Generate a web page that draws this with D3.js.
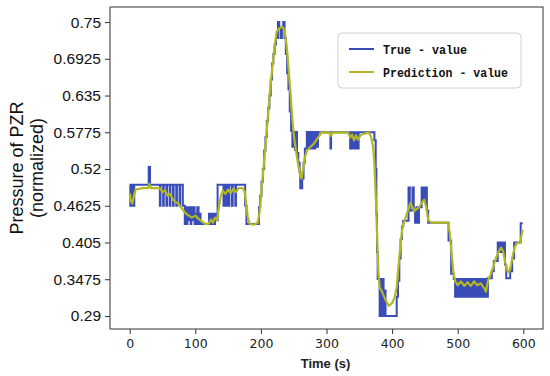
<!DOCTYPE html>
<html><head><meta charset="utf-8">
<script src="https://cdn.jsdelivr.net/npm/d3@7"></script>
<style>body{margin:0;background:#fff}svg{display:block}</style>
</head><body>
<svg id="c" width="550" height="376"></svg>
<script>
const yTicks = [0.29, 0.3475, 0.405, 0.4625, 0.52, 0.5775, 0.635, 0.6925, 0.75];
const yTickLabels = ["0.29","0.3475","0.405","0.4625","0.52","0.5775","0.635","0.6925","0.75"];
const xTicks = [0, 100, 200, 300, 400, 500, 600];
const seriesNames = ["True - value", "Prediction - value"];

const trueT = [0,1,2,3,5,6,7,29,31,46,47,51,52,56,57,61,62,66,67,71,72,76,77,81,
 84,85,87,88,90,91,93,94,96,97,99,100,102,103,105,107,108,121,122,124,126,127,129,130,132,
 134,143,144,147,148,151,152,156,157,161,162,176,178,197,199,201,203,205,207,209,211,213,215,217,219,221,223,
 226,228,230,232,234,236,238,240,242,244,246,248,250,252,254,255,257,259,260,263,265,267,270,272,275,277,279,281,283,285,
 287,306,307,336,337,340,341,344,345,348,349,373,375,376,377,378,381,382,384,385,387,388,390,407,409,411,413,415,417,
 425,427,431,433,435,437,439,441,445,447,450,453,455,486,490,494,
 496,497,498,500,501,502,504,505,506,508,509,511,512,514,515,517,518,520,521,523,524,526,527,529,530,532,533,535,536,538,539,541,542,544,545,
 546,552,555,561,564,566,568,571,572,574,580,583,586,596,599];
const trueV = [.4955,.4625,.4955,.4625,.4955,.4625,.4955,.523,.4955,.4625,.4955,.4625,.4955,.4625,.4955,.4625,.4955,.4625,.4955,.4625,.4955,.4625,.4955,.4625,
 .434,.46,.434,.46,.44,.46,.434,.46,.44,.46,.434,.45,.434,.46,.434,.45,.434,.45,.434,.45,.434,.45,.434,.45,.44,
 .4955,.4625,.4955,.4625,.4955,.4625,.4955,.4625,.4955,.4625,.4955,.4625,.434,.46,.478,.50,.52,.549,.57,.595,.615,.635,.66,.685,.70,.715,.725,
 .75,.74,.725,.74,.75,.725,.70,.67,.645,.61,.58,.555,.578,.55,.578,.545,.53,.515,.49,.505,.53,.552,.578,.552,.578,.552,.578,.552,.578,.555,
 .5775,.552,.5775,.552,.5775,.552,.5775,.552,.5775,.552,.5775,.565,.52,.45,.39,.348,.29,.348,.29,.348,.29,.33,.29,.32,.345,.38,.41,.43,.439,
 .491,.455,.491,.455,.436,.46,.436,.46,.491,.47,.491,.455,.436,.408,.356,.348,
 .32,.348,.32,.348,.32,.348,.32,.348,.32,.348,.32,.348,.32,.348,.32,.348,.32,.348,.32,.348,.32,.348,.32,.348,.32,.348,.32,.348,.32,.348,.32,.348,.32,.348,.32,
 .349,.36,.376,.405,.39,.405,.39,.405,.37,.349,.36,.38,.405,.435,.435];

const predT = [0,2,4,6,9,20,28,30,32,46,50,54,58,62,66,70,74,78,82,86,90,95,100,105,110,115,120,124,127,130,133,136,139,142,146,150,154,158,162,166,172,175,177,180,183,190,195,198,200,203,206,209,212,215,218,221,224,228,232,236,239,242,245,248,251,254,257,260,262,264,267,270,273,277,281,285,289,292,305,307,309,333,336,339,342,345,348,352,356,365,368,371,373,375,377,379,381,385,390,395,400,404,407,410,413,416,420,424,428,431,434,437,441,445,449,452,455,460,485,488,490,493,496,500,505,510,515,520,525,530,535,540,543,546,550,554,558,562,566,569,572,575,578,581,584,587,591,595,597,599];
const predV = [.482,.47,.466,.476,.488,.49,.49,.497,.49,.49,.484,.487,.478,.481,.472,.468,.466,.46,.455,.45,.447,.444,.447,.442,.438,.434,.434,.441,.436,.444,.44,.46,.478,.486,.481,.488,.482,.489,.484,.49,.49,.486,.47,.445,.434,.433,.436,.452,.475,.51,.545,.58,.62,.655,.685,.712,.735,.74,.743,.738,.715,.68,.64,.598,.566,.545,.526,.51,.505,.518,.538,.548,.552,.556,.56,.566,.572,.577,.577,.572,.577,.577,.569,.574,.565,.573,.566,.573,.575,.577,.57,.555,.53,.48,.42,.36,.335,.327,.315,.306,.31,.32,.335,.37,.405,.43,.442,.455,.467,.46,.454,.457,.46,.467,.472,.46,.44,.436,.436,.42,.395,.362,.345,.338,.344,.337,.343,.337,.344,.338,.341,.334,.328,.345,.355,.366,.38,.39,.397,.392,.376,.362,.358,.368,.385,.398,.405,.405,.415,.425];

const m = {left:110, right:543, top:7, bottom:329};
const svg = d3.select("#c");
const x = d3.scaleLinear().domain([-30, 630]).range([m.left, m.right]);
const y = d3.scaleLinear().domain([0.2696, 0.7736]).range([m.bottom, m.top]);

svg.append("clipPath").attr("id","clip").append("rect")
  .attr("x", m.left).attr("y", m.top).attr("width", m.right-m.left).attr("height", m.bottom-m.top);

const trueData = trueT.map((t,i)=>[t,trueV[i]]);
const predData = predT.map((t,i)=>[t,predV[i]]);

const g = svg.append("g").attr("clip-path","url(#clip)");
g.append("path").datum(trueData)
  .attr("d", d3.line().x(d=>x(d[0])).y(d=>y(d[1])).curve(d3.curveStepAfter))
  .attr("fill","none").attr("stroke","#3a4cb8").attr("stroke-width",2);
g.append("path").datum(predData)
  .attr("d", d3.line().x(d=>x(d[0])).y(d=>y(d[1])))
  .attr("fill","none").attr("stroke","#b2b820").attr("stroke-width",2.2).attr("stroke-linejoin","round");

const yAxis = d3.axisLeft(y).tickValues(yTicks).tickFormat((d,i)=>yTickLabels[i]).tickSize(5).tickPadding(4);
const ya = svg.append("g").attr("transform",`translate(${m.left},0)`).call(yAxis);
ya.select(".domain").remove();
ya.selectAll("text").attr("font-family","Liberation Sans, Arial, sans-serif").attr("font-size",15.5).attr("fill","#111");
ya.selectAll("line").attr("stroke","#333");

const xAxis = d3.axisBottom(x).tickValues(xTicks).tickSize(5).tickPadding(5);
const xa = svg.append("g").attr("transform",`translate(0,${m.bottom})`).call(xAxis);
xa.select(".domain").remove();
xa.selectAll("text").attr("font-family","DejaVu Sans, sans-serif").attr("font-size",12.5).attr("fill","#222");
xa.selectAll("line").attr("stroke","#333");

svg.append("rect").attr("x",m.left).attr("y",m.top).attr("width",m.right-m.left).attr("height",m.bottom-m.top)
  .attr("fill","none").attr("stroke","#333").attr("stroke-width",1);

svg.append("text").attr("x", (m.left+m.right)/2 - 1).attr("y", 368).attr("text-anchor","middle")
  .attr("font-family","Liberation Sans, Arial, sans-serif").attr("font-weight","bold").attr("font-size",13).attr("fill","#222")
  .text("Time (s)");
const yl = svg.append("text").attr("transform","translate(0,168) rotate(-90)").attr("text-anchor","middle")
  .attr("font-family","Liberation Sans, Arial, sans-serif").attr("font-size",18).attr("fill","#111");
yl.append("tspan").attr("x",0).attr("y",23).text("Pressure of PZR");
yl.append("tspan").attr("x",0).attr("y",43).text("(normalized)");

const lg = svg.append("g");
lg.append("rect").attr("x",338).attr("y",33).attr("width",183).attr("height",55).attr("rx",4)
  .attr("fill","#fff").attr("stroke","#d0d0d0").attr("stroke-width",1);
const legColors = ["#3a4cb8","#c0b030"];
const legLens = [84,125];
seriesNames.forEach((n,i)=>{
  const yy = 49 + i*23;
  lg.append("line").attr("x1",349).attr("x2",374).attr("y1",yy).attr("y2",yy)
    .attr("stroke",legColors[i]).attr("stroke-width",2);
  lg.append("text").attr("x",383).attr("y",yy+4.5)
    .attr("font-family","Liberation Mono, DejaVu Sans Mono, monospace").attr("font-weight","bold")
    .attr("font-size",13).attr("fill","#111")
    .attr("textLength",legLens[i]).attr("lengthAdjust","spacingAndGlyphs").text(n);
});
</script>
</body></html>
